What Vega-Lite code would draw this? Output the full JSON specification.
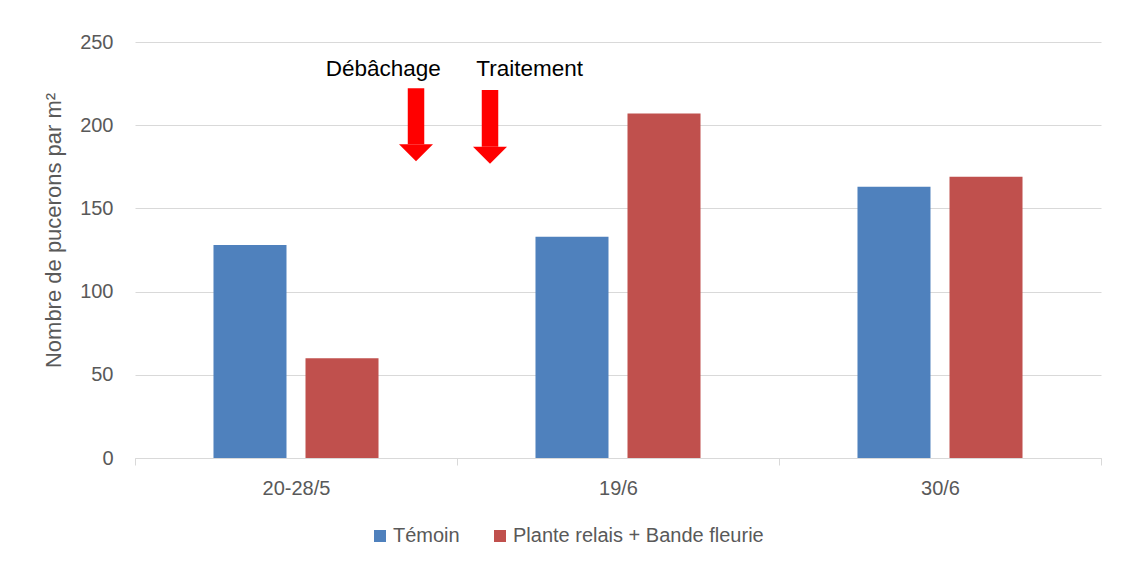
{
  "$schema": "https://vega.github.io/schema/vega-lite/v6.json",
  "width": 966,
  "height": 416,
  "autosize": {"type": "none"},
  "padding": {"left": 135, "top": 42, "right": 22, "bottom": 110},
  "background": "white",
  "config": {
    "font": "Liberation Sans",
    "view": {"stroke": null},
    "axisY": {
      "title": "Nombre de pucerons par m²",
      "titleFontSize": 22,
      "titleFontWeight": "normal",
      "titleColor": "#595959",
      "titleAngle": -90,
      "titleBaseline": "middle",
      "titleAlign": "center",
      "titleX": -82,
      "titleY": 188,
      "labelFontSize": 20,
      "labelColor": "#595959",
      "labelPadding": 22,
      "ticks": false,
      "domain": false,
      "grid": true,
      "gridColor": "#D9D9D9",
      "gridWidth": 1
    }
  },
  "layer": [
    {
      "data": {
        "values": [
          {"date": "20-28/5", "serie": "Témoin", "value": 128},
          {"date": "20-28/5", "serie": "Plante relais + Bande fleurie", "value": 60},
          {"date": "19/6", "serie": "Témoin", "value": 133},
          {"date": "19/6", "serie": "Plante relais + Bande fleurie", "value": 207},
          {"date": "30/6", "serie": "Témoin", "value": 163},
          {"date": "30/6", "serie": "Plante relais + Bande fleurie", "value": 169}
        ]
      },
      "mark": {"type": "bar"},
      "encoding": {
        "x": {
          "field": "date",
          "type": "nominal",
          "sort": ["20-28/5", "19/6", "30/6"],
          "scale": {"paddingInner": 0, "paddingOuter": 0},
          "axis": {
            "title": null,
            "labelAngle": 0,
            "labelFontSize": 20,
            "labelColor": "#595959",
            "labelPadding": 13,
            "domainColor": "#D9D9D9",
            "domainWidth": 1,
            "tickColor": "#D9D9D9",
            "tickSize": 7,
            "tickBand": "extent",
            "grid": false
          }
        },
        "xOffset": {
          "field": "serie",
          "type": "nominal",
          "sort": ["Témoin", "Plante relais + Bande fleurie"],
          "scale": {"paddingInner": 0.2065, "paddingOuter": 0.853}
        },
        "y": {
          "field": "value",
          "type": "quantitative",
          "scale": {"domain": [0, 250], "nice": false},
          "axis": {"title": "Nombre de pucerons par m²", "values": [0, 50, 100, 150, 200, 250]}
        },
        "color": {
          "field": "serie",
          "type": "nominal",
          "sort": ["Témoin", "Plante relais + Bande fleurie"],
          "scale": {
            "domain": ["Témoin", "Plante relais + Bande fleurie"],
            "range": ["#4F81BD", "#C0504D"]
          },
          "legend": {
            "title": null,
            "orient": "none",
            "direction": "horizontal",
            "legendX": 235,
            "legendY": 484,
            "symbolType": "square",
            "symbolSize": 144,
            "symbolStrokeWidth": 0,
            "labelFontSize": 20,
            "labelColor": "#595959",
            "labelOffset": 3,
            "labelLimit": 0,
            "columnPadding": 30
          }
        }
      }
    },
    {
      "data": {
        "values": [
          {"pos": 0.8727, "top": 222.2, "head": 188.5},
          {"pos": 1.1025, "top": 221.2, "head": 187.0}
        ]
      },
      "mark": {"type": "rule", "color": "#FF0000", "strokeWidth": 16.5, "strokeCap": "butt"},
      "encoding": {
        "x": {"field": "pos", "type": "quantitative", "scale": {"domain": [0, 3], "nice": false, "zero": false}, "axis": null},
        "y": {"field": "top", "type": "quantitative", "axis": {"title": "Nombre de pucerons par m²", "values": [0, 50, 100, 150, 200, 250]}},
        "y2": {"field": "head"}
      }
    },
    {
      "data": {
        "values": [
          {"pos": 0.8727, "head": 188.5},
          {"pos": 1.1025, "head": 187.0}
        ]
      },
      "mark": {"type": "point", "shape": "M-1,0L1,0L0,1Z", "size": 1156, "filled": true, "color": "#FF0000", "opacity": 1, "strokeWidth": 0},
      "encoding": {
        "x": {"field": "pos", "type": "quantitative", "scale": {"domain": [0, 3], "nice": false, "zero": false}, "axis": null},
        "y": {"field": "head", "type": "quantitative", "axis": {"title": "Nombre de pucerons par m²", "values": [0, 50, 100, 150, 200, 250]}}
      }
    },
    {
      "data": {
        "values": [
          {"pos": 0.771, "yv": 229.6, "label": "Débâchage"},
          {"pos": 1.2257, "yv": 229.6, "label": "Traitement"}
        ]
      },
      "mark": {"type": "text", "align": "center", "baseline": "alphabetic", "fontSize": 22.5, "color": "#000000"},
      "encoding": {
        "x": {"field": "pos", "type": "quantitative", "scale": {"domain": [0, 3], "nice": false, "zero": false}, "axis": null},
        "y": {"field": "yv", "type": "quantitative", "axis": {"title": "Nombre de pucerons par m²", "values": [0, 50, 100, 150, 200, 250]}},
        "text": {"field": "label"}
      }
    }
  ],
  "resolve": {"scale": {"x": "independent"}}
}
